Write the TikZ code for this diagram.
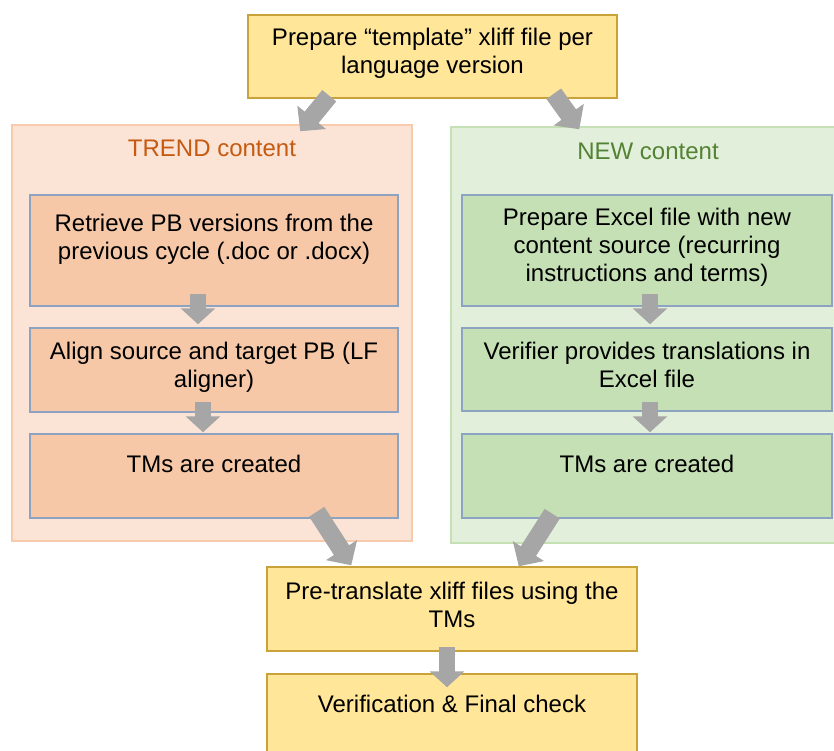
\documentclass[tikz,border=0pt]{standalone}
\usepackage{fontspec}
\setmainfont{Liberation Sans}
\usetikzlibrary{arrows.meta,calc}
\definecolor{yfill}{HTML}{FFE699}
\definecolor{ydraw}{HTML}{C9A33A}
\definecolor{pcont}{HTML}{FBE3D6}
\definecolor{pcontd}{HTML}{F8CBAD}
\definecolor{pbox}{HTML}{F6C8A8}
\definecolor{gcont}{HTML}{E2EFDA}
\definecolor{gcontd}{HTML}{C5E0B4}
\definecolor{gbox}{HTML}{C5E0B4}
\definecolor{bdraw}{HTML}{8EA3C2}
\definecolor{torange}{HTML}{C55A11}
\definecolor{tgreen}{HTML}{548235}
\definecolor{agray}{HTML}{A6A6A6}
\begin{document}
\begin{tikzpicture}[x=1pt,y=-1pt,
  box/.style={rectangle, inner sep=0pt, line width=1.5pt},
  ybox/.style={box, fill=yfill, draw=ydraw},
  pcontbox/.style={box, fill=pcont, draw=pcontd},
  gcontbox/.style={box, fill=gcont, draw=gcontd},
  pinner/.style={box, fill=pbox, draw=bdraw},
  ginner/.style={box, fill=gbox, draw=bdraw},
  txt/.style={inner sep=0pt, align=center, font=\fontsize{24}{28}\selectfont, anchor=north},
  barrow/.style={agray, line width=18pt, -{Triangle[width=36pt,length=18pt]}},
  sarrow/.style={agray, line width=16pt, -{Triangle[width=34pt,length=16pt]}}
]
\clip (0,0) rectangle (834,751);
% containers
\node[pcontbox, minimum width=400, minimum height=416] (tcont) at (212,333) {};
\node[gcontbox, minimum width=384, minimum height=416] (ncont) at (643,335) {};
% top
\node[ybox, minimum width=369, minimum height=83] (top) at (432.5,56.5) {};
% inner boxes
\node[pinner, minimum width=368, minimum height=111] (l1) at (214,250.5) {};
\node[pinner, minimum width=368, minimum height=84] (l2) at (214,370) {};
\node[pinner, minimum width=368, minimum height=84] (l3) at (214,476) {};
\node[ginner, minimum width=370, minimum height=111] (r1) at (647,250.5) {};
\node[ginner, minimum width=370, minimum height=83] (r2) at (647,369.5) {};
\node[ginner, minimum width=370, minimum height=84] (r3) at (647,476) {};
% bottom boxes
\node[ybox, minimum width=370, minimum height=84] (pre) at (452,609) {};
\node[ybox, minimum width=370, minimum height=86] (ver) at (452,717) {};
% texts
\node[txt] (topT) at (432.5,28) {Prepare “template” xliff file per\\language version};
\node[txt, text=torange] (tT) at (212,140) {TREND content};
\node[txt, text=tgreen] (nT) at (648,143) {NEW content};
\node[txt] (l1T) at (214,214) {Retrieve PB versions from the\\previous cycle (.doc or .docx)};
\node[txt] (l2T) at (214,342) {Align source and target PB (LF\\aligner)};
\node[txt] (l3T) at (214,455) {TMs are created};
\node[txt] (r1T) at (647,208) {Prepare Excel file with new\\content source (recurring\\instructions and terms)};
\node[txt] (r2T) at (647,342) {Verifier provides translations in\\Excel file};
\node[txt] (r3T) at (647,455) {TMs are created};
\node[txt] (preT) at (452,582) {Pre-translate xliff files using the\\TMs};
\node[txt] (verT) at (452,695) {Verification \& Final check};
% arrows
\draw[barrow] ($(top.south west)+(82,-3)$) -- ($(tcont.north west)+(289,7)$);
\draw[barrow] ($(top.south east)+(-64,-5)$) -- ($(ncont.north west)+(129,3)$);
\draw[sarrow] ($(l1.south)+(-16,-13)$) -- ($(l2.north)+(-16,-3)$);
\draw[sarrow] ($(l2.south)+(-11,-11)$) -- ($(l3.north)+(-11,-1)$);
\draw[sarrow] ($(r1.south)+(3,-13)$) -- ($(r2.north)+(3,-3)$);
\draw[sarrow] ($(r2.south)+(3,-10)$) -- ($(r3.north)+(3,-1)$);
\draw[barrow] ($(tcont.south east)+(-96,-30)$) -- ($(pre.north west)+(85,-1)$);
\draw[barrow] ($(ncont.south west)+(102,-30)$) -- ($(pre.north east)+(-119,0)$);
\draw[sarrow] ($(pre.south)+(-5,-5)$) -- ($(ver.north)+(-5,14)$);
\end{tikzpicture}
\end{document}
